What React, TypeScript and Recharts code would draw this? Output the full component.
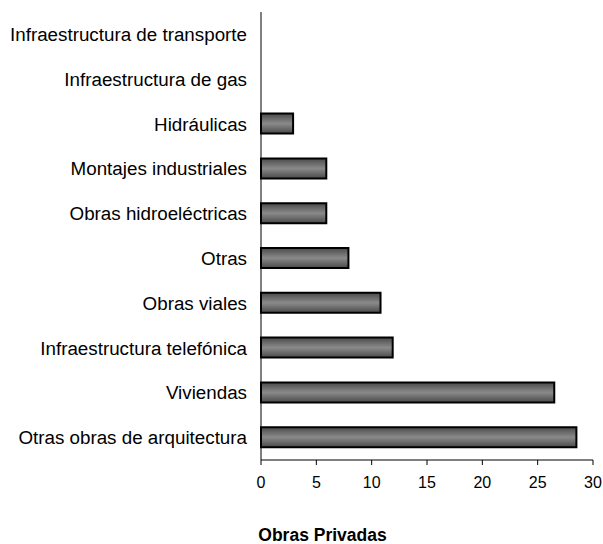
import { BarChart, Bar, XAxis, YAxis } from 'recharts'

const categories = [
  'Infraestructura de transporte',
  'Infraestructura de gas',
  'Hidráulicas',
  'Montajes industriales',
  'Obras hidroeléctricas',
  'Otras',
  'Obras viales',
  'Infraestructura telefónica',
  'Viviendas',
  'Otras obras de arquitectura'
]
const values = [0, 0, 2.9, 5.9, 5.9, 7.9, 10.8, 11.9, 26.5, 28.5]
const xTicks = [0, 5, 10, 15, 20, 25, 30]

const data = categories.map((name, i) => ({ name, value: values[i] }))

const font = "'Liberation Sans', Arial, sans-serif"

export default function App() {
  return (
    <div style={{ position: 'absolute', top: 0, left: 0, width: 603, height: 544, background: '#fff', fontFamily: font }}>
      <BarChart
        width={603}
        height={544}
        data={data}
        layout="vertical"
        margin={{ top: 12, right: 10, bottom: 54, left: 0 }}
      >
        <defs>
          <linearGradient id="barGrad" x1="0" y1="0" x2="0" y2="1">
            <stop offset="0%" stopColor="#4a4a4a" />
            <stop offset="50%" stopColor="#8a8a8a" />
            <stop offset="100%" stopColor="#4a4a4a" />
          </linearGradient>
        </defs>
        <XAxis
          type="number"
          domain={[0, 30]}
          ticks={xTicks}
          height={30}
          stroke="#000"
          tickSize={5}
          tickMargin={12}
          tick={{ fill: '#000', fontSize: 16, fontFamily: font }}
        />
        <YAxis
          type="category"
          dataKey="name"
          width={261}
          stroke="#000"
          tickLine={false}
          tickSize={0}
          tickMargin={14}
          interval={0}
          tick={{ fill: '#000', fontSize: 18.8, fontFamily: font }}
        />
        <Bar
          dataKey="value"
          fill="url(#barGrad)"
          stroke="#000"
          strokeWidth={2}
          barSize={20}
          isAnimationActive={false}
        />
      </BarChart>
      <div
        style={{
          position: 'absolute',
          top: 525,
          left: 0,
          width: 645,
          textAlign: 'center',
          fontWeight: 'bold',
          fontSize: 17.5,
          lineHeight: '20px',
          color: '#000'
        }}
      >
        Obras Privadas
      </div>
    </div>
  )
}
